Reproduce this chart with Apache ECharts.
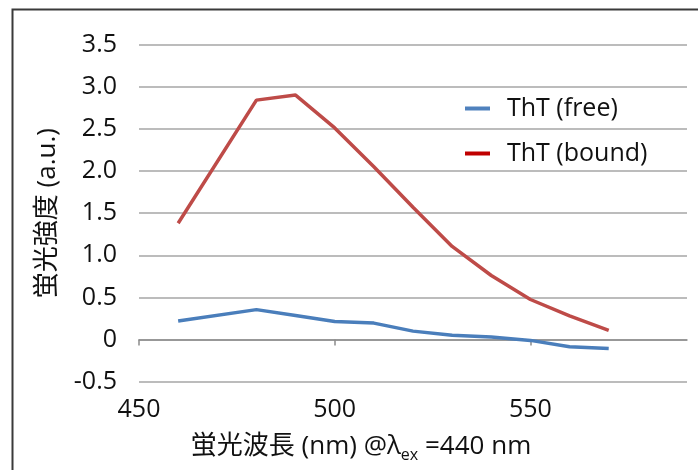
<!DOCTYPE html>
<html>
<head>
<meta charset="utf-8">
<script src="https://cdn.jsdelivr.net/npm/echarts@6/dist/echarts.min.js"></script>
<style>html,body{margin:0;padding:0;background:#fff;}#c{width:698px;height:470px;}</style>
</head>
<body>
<div id="c"></div>
<script>
const wavelengths = [460, 480, 490, 500, 510, 520, 530, 540, 550, 560, 570];
const freeVals  = [0.22, 0.355, 0.285, 0.215, 0.195, 0.10, 0.05, 0.03, -0.01, -0.085, -0.107];
const boundVals = [1.38, 2.84, 2.90, 2.51, 2.05, 1.57, 1.105, 0.76, 0.475, 0.28, 0.11];
const xTicks = [450, 500, 550];
const seriesNames = ['ThT (free)', 'ThT (bound)'];
const yName = '蛍光強度 (a.u.)';
const xNameParts = ['蛍光波長 (nm) @λ', 'ex', ' =440 nm'];

const FONT = "'Open Sans', 'Noto Sans CJK JP', sans-serif";
const chart = echarts.init(document.getElementById('c'), null, {renderer: 'canvas'});
const pair = arr => wavelengths.map((w, i) => [w, arr[i]]);

chart.setOption({
  animation: false,
  textStyle: {fontFamily: FONT},
  grid: {left: 139, right: 11, top: 44.5, bottom: 88.3, containLabel: false},
  graphic: [
    {type: 'polyline', shape: {points: [[12.5, 470], [12.5, 9.5], [698, 9.5]]},
     style: {stroke: '#3a3a3a', lineWidth: 2, fill: null}},
    {type: 'text', x: 361, y: 447,
     style: {
       text: '{a|' + xNameParts[0] + '}{s|' + xNameParts[1] + '}{a|' + xNameParts[2] + '}',
       align: 'center', verticalAlign: 'middle',
       rich: {
         a: {fontSize: 26, fontFamily: FONT, fill: '#111', lineHeight: 32, verticalAlign: 'middle'},
         s: {fontSize: 16, fontFamily: FONT, fill: '#111', lineHeight: 32, verticalAlign: 'bottom', padding: [15, 0, 0, 0]}
       }
     }}
  ],
  legend: {
    orient: 'vertical', left: 460, top: 91, itemGap: 20,
    icon: 'rect', itemWidth: 25, itemHeight: 4,
    textStyle: {fontSize: 25, fontFamily: FONT, color: '#111', padding: [0, 0, 0, 12]},
    data: [
      {name: seriesNames[0], itemStyle: {color: '#4f81bd'}},
      {name: seriesNames[1], itemStyle: {color: '#c00000'}}
    ]
  },
  xAxis: [
    {type: 'value', min: 450, max: 590, interval: 50,
     axisLine: {onZero: true, lineStyle: {color: '#8c8c8c', width: 1.5}},
     axisTick: {show: true, length: 6, lineStyle: {color: '#8c8c8c', width: 1.5}, customValues: xTicks},
     axisLabel: {show: false},
     splitLine: {show: false}},
    {type: 'value', min: 450, max: 590, interval: 50, position: 'bottom',
     axisLine: {show: false, onZero: false}, axisTick: {show: false},
     axisLabel: {show: true, fontSize: 25, color: '#111', margin: 16, customValues: xTicks},
     splitLine: {show: false}}
  ],
  yAxis: {
    type: 'value', min: -0.5, max: 3.5, interval: 0.5,
    name: yName, nameLocation: 'middle', nameGap: 78,
    nameTextStyle: {fontSize: 26, color: '#111', fontFamily: FONT},
    axisLine: {show: false}, axisTick: {show: false},
    axisLabel: {fontSize: 25, color: '#111', margin: 22,
      formatter: v => (Math.abs(v) < 1e-9 ? '0' : v.toFixed(1))},
    splitLine: {lineStyle: {color: '#a6a6a6', width: 1.5}}
  },
  series: [
    {name: seriesNames[0], type: 'line', xAxisIndex: 0, data: pair(freeVals),
     showSymbol: false, symbol: 'none', lineStyle: {color: '#4a7ebb', width: 3.5}, itemStyle: {color: '#4a7ebb'}},
    {name: seriesNames[1], type: 'line', xAxisIndex: 0, data: pair(boundVals),
     showSymbol: false, symbol: 'none', lineStyle: {color: '#be4b48', width: 3.5}, itemStyle: {color: '#be4b48'}}
  ]
});
</script>
</body>
</html>
